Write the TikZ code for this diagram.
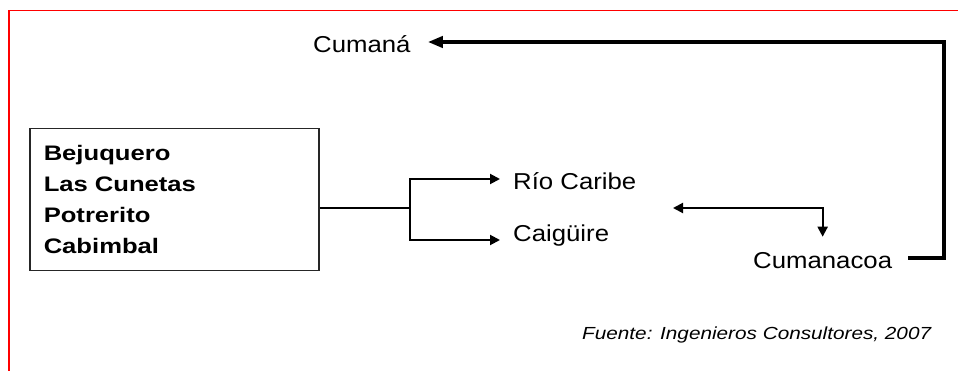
\documentclass[tikz,border=0pt]{standalone}
\usepackage{fontspec}
\setmainfont{Liberation Sans}
\newfontfamily\lblfont[FakeStretch=1.12]{Liberation Sans}
\newfontfamily\boxfont[FakeStretch=1.22]{Liberation Sans}
\newfontfamily\srcfont[FakeStretch=1.185]{Liberation Sans}
\usetikzlibrary{arrows.meta,calc}
\begin{document}
\begin{tikzpicture}[x=1pt,y=-1pt,
  lbl/.style={font=\lblfont\fontsize{23}{27}\selectfont, inner sep=0pt, anchor=base west},
  srcnote/.style={font=\srcfont\itshape\fontsize{17.5}{20}\selectfont, inner sep=0pt, anchor=base west},
  placebox/.style={draw=black!85, line width=1.5pt, anchor=north west, minimum height=142pt,
    align=left, inner xsep=14pt, inner ysep=0pt, text width=261pt,
    font=\boxfont\bfseries\fontsize{21}{31}\selectfont},
  thinline/.style={line width=2pt},
  thinarrow/.style={line width=2pt, -{Triangle[length=10pt,width=10pt]}},
  thickarrow/.style={line width=4.7pt, -{Triangle[length=15pt,width=11pt]}},
  frame/.style={draw=red, line width=1.7pt}
]
\useasboundingbox (0,0) rectangle (958,371);
\draw[frame] (9,371) -- (9,10.5) -- (958,10.5);

\node[placebox] (places) at (29,128) {Bejuquero\\Las Cunetas\\Potrerito\\Cabimbal};

\node[lbl] (cumana) at (313,53) {Cumaná};
\node[lbl] (rio) at (513,190) {Río Caribe};
\node[lbl] (caig) at (513,242) {Caigüire};
\node[lbl] (cumanacoa) at (753,269) {Cumanacoa};
\node[srcnote] (fuente) at (582,339) {Fuente: Ingenieros Consultores, 2007};

\coordinate (split) at (410,208);
\draw[thinline] (places.east |- split) -- (split);
\draw[thinarrow] (split) |- ($(rio.west |- 0,179)+(-13,0)$);
\draw[thinarrow] (split) |- ($(caig.west |- 0,240)+(-13,0)$);

\coordinate (mid) at (673,208);
\draw[line width=2pt, {Triangle[length=10pt,width=10pt]}-{Triangle[length=10pt,width=10pt]}]
  (mid) -| ($(cumanacoa.north)+(0,-16)$);

\coordinate (ret1) at (908,258);
\coordinate (ret2) at (944,42);
\draw[thickarrow] (ret1) -| (ret2) -- ($(cumana.east |- ret2)+(17,0)$);
\end{tikzpicture}
\end{document}
